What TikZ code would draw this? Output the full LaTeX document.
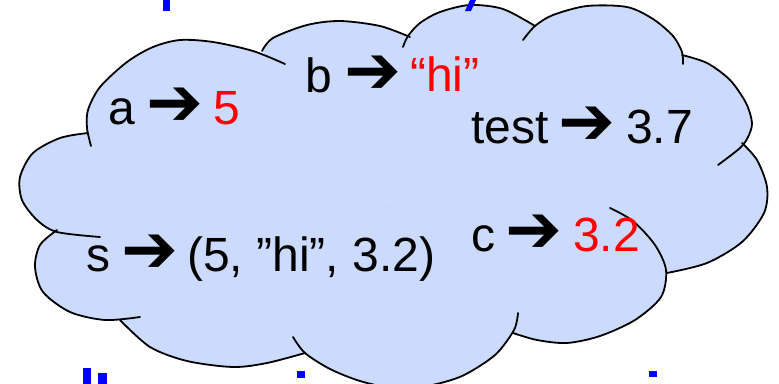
\documentclass[tikz,border=0pt]{standalone}
\usepackage{fontspec}
\setmainfont{Liberation Sans}
\newfontfamily\dejavu{DejaVu Sans}
\definecolor{cloudblue}{RGB}{203,218,253}
\definecolor{titleblue}{RGB}{0,0,255}
\definecolor{valred}{RGB}{255,0,0}
\begin{document}
\begin{tikzpicture}[x=1pt,y=-1pt,
  lobe/.style={draw=black, line width=1.8pt, line cap=round},
  lobefill/.style={fill=cloudblue, draw=none},
  lbl/.style={anchor=base west, inner sep=0pt, font=\fontsize{48}{58}\selectfont},
  arr/.style={inner sep=0pt, font=\dejavu\fontsize{68}{78}\selectfont},
  frag/.style={fill=titleblue, draw=none}]
\useasboundingbox (0,0) rectangle (779,383);
\begin{scope}
\clip (0,0) rectangle (779,383);
% ---- fill of the cloud ----
\coordinate (cc) at (390,200);
\fill[lobefill] (cc) -- plot[smooth] coordinates {(91,146) (87,128) (88,110) (100,87) (127,62) (153,47) (180,40) (213,42) (253,51) (285,64)} -- cycle;
\fill[lobefill] (cc) -- plot[smooth] coordinates {(262,51) (273,38) (307,25) (340,21) (380,26) (410,37)} -- cycle;
\fill[lobefill] (cc) -- plot[smooth] coordinates {(403,47) (408,36) (420,23) (440,12) (470,5) (503,9) (535,26)} -- cycle;
\fill[lobefill] (cc) -- plot[smooth] coordinates {(523,40) (535,26) (553,15) (587,6) (627,7) (653,19) (673,36) (682,52) (683,64)} -- cycle;
\fill[lobefill] (cc) -- plot[smooth] coordinates {(682,55) (707,63) (730,80) (746,103) (752,123) (748,137) (740,148) (718,165)} -- cycle;
\fill[lobefill] (cc) -- plot[smooth] coordinates {(742,143) (757,160) (767,187) (764,213) (742,242) (707,263) (667,273)} -- cycle;
\fill[lobefill] (cc) -- plot[smooth] coordinates {(610,208) (633,221) (655,245) (666,270) (661,297) (635,320) (600,336) (567,343) (537,340) (513,333)} -- cycle;
\fill[lobefill] (cc) -- plot[smooth] coordinates {(518,313) (514,330) (495,355) (462,376) (427,386) (393,388) (360,381) (330,369) (305,353) (293,337)} -- cycle;
\fill[lobefill] (cc) -- plot[smooth] coordinates {(305,353) (267,363) (233,367) (187,361) (150,347) (120,320)} -- cycle;
\fill[lobefill] (cc) -- plot[smooth] coordinates {(57,230) (40,245) (35,267) (43,292) (70,312) (105,320) (140,317)} -- cycle;
\fill[lobefill] (cc) -- plot[smooth] coordinates {(88,133) (60,138) (33,153) (20,177) (22,200) (37,220) (57,232) (100,237)} -- cycle;
% ---- outline of the cloud ----
\draw[lobe] plot[smooth] coordinates {(91,146) (87,128) (88,110) (100,87) (127,62) (153,47) (180,40) (213,42) (253,51) (285,64)};
\draw[lobe] plot[smooth] coordinates {(262,51) (273,38) (307,25) (340,21) (380,26) (410,37)};
\draw[lobe] plot[smooth] coordinates {(403,47) (408,36) (420,23) (440,12) (470,5) (503,9) (535,26)};
\draw[lobe] plot[smooth] coordinates {(523,40) (535,26) (553,15) (587,6) (627,7) (653,19) (673,36) (682,52) (683,64)};
\draw[lobe] plot[smooth] coordinates {(682,55) (707,63) (730,80) (746,103) (752,123) (748,137) (740,148) (718,165)};
\draw[lobe] plot[smooth] coordinates {(742,143) (757,160) (767,187) (764,213) (742,242) (707,263) (667,273)};
\draw[lobe] plot[smooth] coordinates {(610,208) (633,221) (655,245) (666,270) (661,297) (635,320) (600,336) (567,343) (537,340) (513,333)};
\draw[lobe] plot[smooth] coordinates {(518,313) (514,330) (495,355) (462,376) (427,386) (393,388) (360,381) (330,369) (305,353) (293,337)};
\draw[lobe] plot[smooth] coordinates {(305,353) (267,363) (233,367) (187,361) (150,347) (120,320)};
\draw[lobe] plot[smooth] coordinates {(57,230) (40,245) (35,267) (43,292) (70,312) (105,320) (140,317)};
\draw[lobe] plot[smooth] coordinates {(88,133) (60,138) (33,153) (20,177) (22,200) (37,220) (57,232) (100,237)};
% ---- cut-off blue fragments at top and bottom ----
\fill[frag] (163,0) rectangle (170,11);
\fill[frag] (470,0) -- (476,0) -- (471,11) -- (465,11) -- cycle;
\fill[frag] (83,368) rectangle (91,384);
\fill[frag] (98,373) rectangle (107,384);
\fill[frag] (297,371) rectangle (305,378);
\fill[frag] (649,371) rectangle (657,377);
\end{scope}
% ---- texts ----
\node[lbl] (ka) at (108,124) {a};
\node[arr] (aa) at (174.5,107) {➔};
\node[lbl, text=valred] (va) at (213,124) {5};
\node[lbl] (kb) at (305,92) {b};
\node[arr] (ab) at (372.5,75) {➔};
\node[lbl, text=valred] (vb) at (410,91) {“hi”};
\node[lbl] (kt) at (471,143) {test};
\node[arr] (at) at (586.5,126) {➔};
\node[lbl] (vt) at (626,143) {3.7};
\node[lbl] (ks) at (86,271) {s};
\node[arr] (as) at (150,254) {➔};
\node[lbl] (vs) at (187,271) {(5, ”hi”, 3.2)};
\node[lbl] (kc) at (471,251) {c};
\node[arr] (ac) at (533.5,234) {➔};
\node[lbl, text=valred] (vc) at (573,251) {3.2};
\end{tikzpicture}
\end{document}
